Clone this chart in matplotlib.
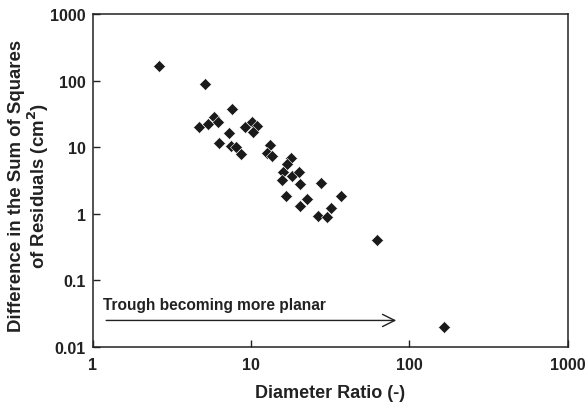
import matplotlib
matplotlib.use("Agg")
import matplotlib.pyplot as plt
from matplotlib.ticker import FixedLocator, NullLocator, FixedFormatter

plt.rcParams['font.family'] = ['Liberation Sans', 'DejaVu Sans']
plt.rcParams['font.weight'] = 'bold'
plt.rcParams['axes.labelweight'] = 'bold'

# diameter ratio (-) vs difference in sum of squares of residuals (cm^2)
ratio = [2.62, 5.12, 7.55, 4.71, 5.37, 5.84, 6.21, 7.29, 6.31, 7.45, 8.04, 8.65,
         9.17, 10.1, 10.9, 10.3, 13.2, 12.6, 13.5, 17.8, 16.8, 16.0, 15.6, 18.1,
         20.1, 20.4, 27.7, 16.6, 22.5, 20.4, 36.9, 31.9, 26.4, 30.3, 62.2, 166]
diff_ssr = [168, 88, 37.7, 20.4, 22.4, 28.3, 24.3, 16.4, 11.6, 10.4, 10.1, 7.97,
            20.0, 24.3, 21.1, 17.2, 10.9, 8.16, 7.26, 6.94, 5.64, 4.24, 3.17, 3.69,
            4.24, 2.83, 2.92, 1.82, 1.64, 1.29, 1.82, 1.22, 0.914, 0.895, 0.40, 0.0201]

xticks = [1, 10, 100, 1000]
xlabels = ['1', '10', '100', '1000']
yticks = [0.01, 0.1, 1, 10, 100, 1000]
ylabels = ['0.01', '0.1', '1', '10', '100', '1000']

fig = plt.figure(figsize=(5.86, 4.06), dpi=100)
ax = fig.add_axes([0.158, 0.143, 0.811, 0.820])

ax.plot(ratio, diff_ssr, 'D', color='#1a1a1a', markersize=6,
        markeredgecolor='white', markeredgewidth=0.4)

ax.set_xscale('log')
ax.set_yscale('log')
ax.set_xlim(1, 1000)
ax.set_ylim(0.01, 1000)
ax.xaxis.set_major_locator(FixedLocator(xticks))
ax.xaxis.set_major_formatter(FixedFormatter(xlabels))
ax.yaxis.set_major_locator(FixedLocator(yticks))
ax.yaxis.set_major_formatter(FixedFormatter(ylabels))
ax.xaxis.set_minor_locator(NullLocator())
ax.yaxis.set_minor_locator(NullLocator())
ax.tick_params(direction='in', length=5, width=1, labelsize=11.5,
               color='#222222', labelcolor='#222222')
ax.tick_params(axis='x', pad=7)
ax.tick_params(axis='y', pad=5)
for s in ax.spines.values():
    s.set_linewidth(1.1)
    s.set_color('#222222')

ax.set_xlabel('Diameter Ratio (-)', fontsize=13, labelpad=9, color='#222222')
ax.set_ylabel('Difference in the Sum of Squares\nof Residuals (cm$^\\mathbf{2}$)',
              fontsize=13.4, linespacing=1.05, color='#222222')
ax.yaxis.set_label_coords(-0.087, 0.488)

# arrow annotation
ax.annotate('', xy=(86, 0.025), xytext=(1.17, 0.025),
            arrowprops=dict(arrowstyle='->', color='#222222', lw=1.0,
                            mutation_scale=22))
ax.text(1.17, 0.044, 'Trough becoming more planar', fontsize=11.2, va='center',
        ha='left', color='#222222')

fig.savefig('out.png', dpi=100)
